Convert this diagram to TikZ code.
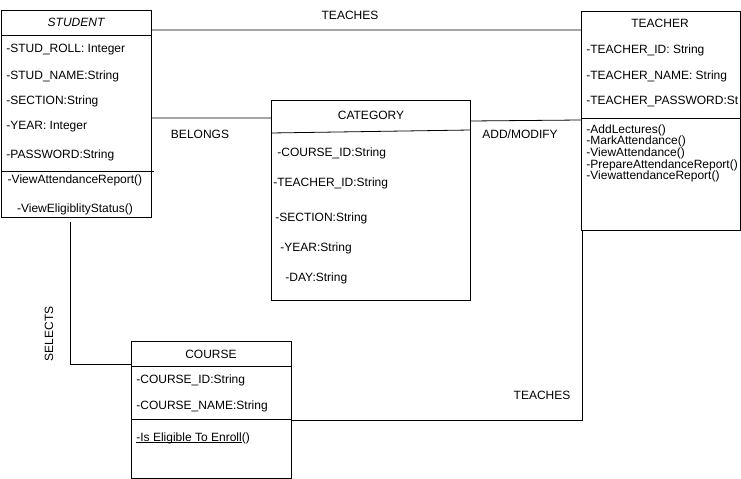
\documentclass[tikz,border=0pt]{standalone}
\usepackage{fontspec}
\setmainfont{Liberation Sans}
\usetikzlibrary{positioning}

\newcommand\umlfont{\fontsize{12bp}{14bp}\selectfont}
\newcommand\ulstatic[1]{\underline{\smash{#1}}}

\begin{document}
\begin{tikzpicture}[
    x=1bp, y=-1bp,
    line width=0.8pt,
    classbox/.style={draw, anchor=north west, inner sep=0pt},
    ctitle/.style={font=\umlfont, inner sep=0pt},
    attr/.style={font=\umlfont, anchor=west, inner sep=0pt},
    meth/.style={font=\umlfont, inner sep=0pt},
    rel/.style={font=\umlfont, inner sep=0pt}
]
    \useasboundingbox (0,0) rectangle (741,479);

    \node[classbox, minimum width=150bp, minimum height=207bp] (student) at (1,10) {};
    \node[classbox, minimum width=199bp, minimum height=200bp] (category) at (271,100) {};
    \node[classbox, minimum width=159bp, minimum height=219bp] (teacher) at (581,11) {};
    \node[classbox, minimum width=160bp, minimum height=137bp] (course) at (131,341) {};

    \draw ([yshift=-25bp]student.north west) -- ([yshift=-25bp]student.north east);
    \draw ([yshift=-161bp]student.north west) -- ([xshift=2bp,yshift=-161bp]student.north east);
    \draw ([yshift=-33bp]category.north west) -- ([yshift=-30bp]category.north east);
    \draw ([yshift=-107bp]teacher.north west) -- ([yshift=-107bp]teacher.north east);
    \draw ([yshift=-25bp]course.north west) -- ([yshift=-25bp]course.north east);
    \draw ([yshift=-78bp]course.north west) -- ([yshift=-78bp]course.north east);

    \node[ctitle, font=\umlfont\itshape] (studtitle) at (76,22) {STUDENT};
    \node[attr] (sroll) at (6,50) {-STUD\_ROLL: Integer};
    \node[attr] (sname) at (6,76) {-STUD\_NAME:String};
    \node[attr] (ssect) at (6,101) {-SECTION:String};
    \node[attr] (syear) at (6,127) {-YEAR: Integer};
    \node[attr] (spass) at (6,155) {-PASSWORD:String};
    \node[meth] (sview) at (75,180) {-ViewAttendanceReport()};
    \node[meth] (selig) at (75,209) {-ViewEligiblityStatus()};

    \node[ctitle] (cattitle) at (371,115) {CATEGORY};
    \node[attr] (ccourse) at (277,153) {-COURSE\_ID:String};
    \node[attr] (cteach) at (273,183) {-TEACHER\_ID:String};
    \node[attr] (csect) at (275,218) {-SECTION:String};
    \node[attr] (cyear) at (280,248) {-YEAR:String};
    \node[attr] (cday) at (285,278) {-DAY:String};

    \node[ctitle] (teachtitle) at (660,23) {TEACHER};
    \node[attr] (tid) at (586,50) {-TEACHER\_ID: String};
    \node[attr] (tname) at (586,76) {-TEACHER\_NAME: String};
    \node[attr] (tpass) at (586,102) {-TEACHER\_PASSWORD:St};
    \node[attr, anchor=north west, align=left, font=\fontsize{12bp}{11.7bp}\selectfont] (tmeth) at (586,124)
        {-AddLectures()\\-MarkAttendance()\\-ViewAttendance()\\-PrepareAttendanceReport()\\-ViewattendanceReport()};

    \node[ctitle] (coursetitle) at (211,354) {COURSE};
    \node[attr] (kid) at (136,380) {-COURSE\_ID:String};
    \node[attr] (kname) at (136,406) {-COURSE\_NAME:String};
    \node[attr] (kelig) at (136,438) {\ulstatic{-Is Eligible To Enroll}()};

    \draw ([yshift=-20bp]student.north east) -- ([yshift=-19bp]teacher.north west);
    \draw ([yshift=-108bp]student.north east) -- ([yshift=-18bp]category.north west);
    \draw ([yshift=-21bp]category.north east) -- ([yshift=-109bp]teacher.north west);
    \draw ([xshift=-6bp,yshift=-4bp]student.south) |- ([yshift=-23bp]course.north west);
    \draw ([yshift=-79bp]course.north east) -| ([xshift=1bp]teacher.south west);

    \node[rel] (teaches1) at (350,15) {TEACHES};
    \node[rel] (belongs) at (200,134) {BELONGS};
    \node[rel] (addmod) at (520,134) {ADD/MODIFY};
    \node[rel, rotate=90] (selects) at (49,334) {SELECTS};
    \node[rel] (teaches2) at (542,395) {TEACHES};
\end{tikzpicture}
\end{document}
